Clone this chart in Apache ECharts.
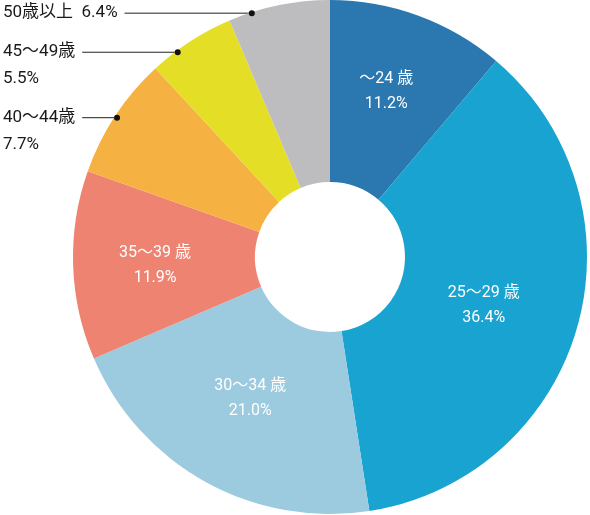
<!DOCTYPE html>
<html>
<head>
<meta charset="utf-8">
<script src="https://cdn.jsdelivr.net/npm/echarts@6/dist/echarts.min.js"></script>
<style>
  html, body { margin: 0; padding: 0; background: #fff; }
  #pieChart { width: 590px; height: 515px; }
</style>
</head>
<body>
<div id="pieChart"></div>
<script>
// 年齢層
const categories = ['～24 歳', '25～29 歳', '30～34 歳', '35～39 歳', '40～44歳', '45～49歳', '50歳以上']
// 構成比 (%)
const shares = [11.2, 36.4, 21.0, 11.9, 7.7, 5.5, 6.4]
const colors = ['#2b78b1', '#18a3d0', '#9ccade', '#ee8372', '#f5b142', '#e5de26', '#bdbdbf']
// 外側にラベルを出す項目
const outsideItems = ['40～44歳', '45～49歳', '50歳以上']

const font = 'Roboto, "Noto Sans CJK JP", sans-serif'
const cx = 330
const cy = 257
const outerR = 257
const outerLineH = 27
// 外側ラベルの上下の微調整 (px)
const labelNudge = { '40～44歳': 2, '45～49歳': 11, '50歳以上': 8 }
// 内側ラベルの位置の微調整 (px)
const innerOffset = [[-2, -7], [-9, 3], [2, -6], [-6, 3]]
const dots = []

const pieData = categories.map((name, i) => {
  const item = { name: name, value: shares[i], itemStyle: { color: colors[i] } }
  if (outsideItems.includes(name)) {
    const oneLine = name === '50歳以上'
    item.label = {
      position: 'outside',
      color: '#1a1a1a',
      fontSize: 17,
      lineHeight: outerLineH,
      formatter: (p) => oneLine ? p.name + '  ' + p.value.toFixed(1) + '%' : p.name + '\n' + p.value.toFixed(1) + '%'
    }
    item.labelLine = { show: true, length: 0, length2: 10 }
  } else {
    item.label = { offset: innerOffset[i] }
  }
  return item
})

// 外側ラベルは左端に揃え、水平の引き出し線で円周につなぐ
const layoutLabel = (params) => {
  if (params.seriesIndex !== 0) return
  const name = categories[params.dataIndex]
  if (!outsideItems.includes(name) || !params.labelLinePoints) return
  const p0 = params.labelLinePoints[0]
  const y = p0[1] + labelNudge[name]
  const x0 = 3
  const dx = Math.sqrt(outerR * outerR - (y - cy) * (y - cy))
  const dotX = cx - dx + 3
  dots[params.dataIndex] = [dotX, y]
  return {
    x: x0,
    y: y - outerLineH / 2,
    align: 'left',
    verticalAlign: 'top',
    hideOverlap: false,
    labelLinePoints: [[x0 + params.labelRect.width + 7, y], [dotX, y], [dotX, y]]
  }
}

const option = {
  animation: false,
  series: [
    {
      name: '年齢構成',
      type: 'pie',
      center: [cx, cy],
      radius: [75, outerR],
      startAngle: 90,
      avoidLabelOverlap: false,
      label: {
        show: true,
        position: 'inside',
        color: '#fff',
        fontSize: 16,
        lineHeight: 25,
        fontFamily: font,
        formatter: (p) => p.name + '\n' + p.value.toFixed(1) + '%'
      },
      labelLine: {
        show: false,
        lineStyle: { color: '#222', width: 1 }
      },
      labelLayout: layoutLabel,
      data: pieData
    }
  ]
}

const myChart = echarts.init(document.getElementById('pieChart'))
option && myChart.setOption(option)

// 引き出し線の先の点
myChart.setOption({
  graphic: dots.filter(Boolean).map((d) => ({
    type: 'circle',
    silent: true,
    z: 100,
    shape: { cx: d[0], cy: d[1], r: 3 },
    style: { fill: '#111' }
  }))
})
</script>
</body>
</html>
